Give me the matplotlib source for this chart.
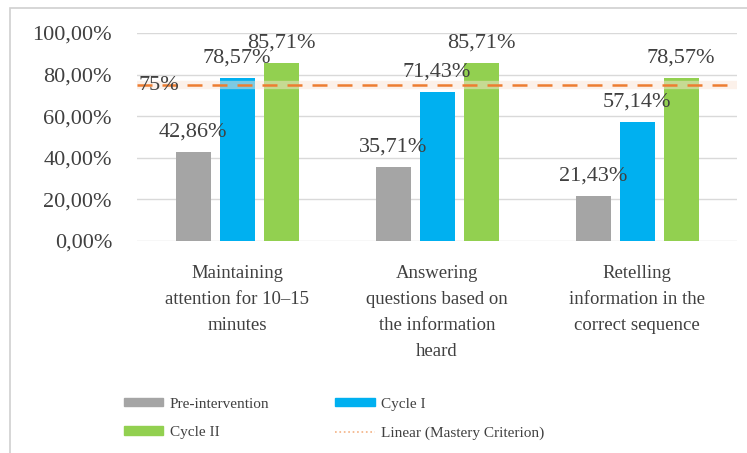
import matplotlib
matplotlib.use("Agg")
import matplotlib.pyplot as plt
import numpy as np
from matplotlib.patches import Rectangle, Patch
from matplotlib.lines import Line2D

categories = ["Maintaining\nattention for 10\u201315\nminutes",
              "Answering\nquestions based on\nthe information\nheard",
              "Retelling\ninformation in the\ncorrect sequence"]
series_names = ["Pre-intervention", "Cycle I", "Cycle II"]
pre = [42.86, 35.71, 21.43]
cycle1 = [78.57, 71.43, 57.14]
cycle2 = [85.71, 85.71, 78.57]
mastery = 75
colors = ["#a5a5a5", "#00b0f0", "#92d050"]

plt.rcParams['font.family'] = ['Liberation Serif', 'DejaVu Serif']

fig = plt.figure(figsize=(7.47, 4.53), dpi=100)
fig.patches.append(Rectangle((10/747, -0.1), 1.2, (453-8)/453 + 0.1, transform=fig.transFigure,
                             fill=False, edgecolor="#d0d0d0", linewidth=1.2))
ax = fig.add_axes([137/747, (453-241)/453, 600/747, 208/453])

x = np.arange(len(categories))
w = 0.175
off = 0.22
for i, (vals, c) in enumerate(zip([pre, cycle1, cycle2], colors)):
    xs = x + (i - 1) * off
    ax.bar(xs, vals, width=w, color=c, zorder=2)
    for xx, v in zip(xs, vals):
        ax.text(xx, v + 5, f"{v:.2f}%".replace(".", ","), ha="center", va="bottom",
                fontsize=16, color="#404040", zorder=4)

ax.axhline(mastery, color="#fbe5d6", linewidth=6, alpha=0.5, zorder=2.5)
ax.axhline(mastery, color="#ed7d31", linewidth=1.8, dashes=(6, 4), zorder=3)
ax.text(-0.49, mastery, f"{mastery}%", ha="left", va="center", fontsize=16, color="#404040", zorder=4)

ax.set_xlim(-0.5, 2.5)
ax.set_ylim(0, 100)
ax.set_yticks(np.arange(0, 101, 20))
ax.set_yticklabels([f"{t:.2f}%".replace(".", ",") for t in np.arange(0, 101, 20)],
                   fontsize=16, color="#404040")
ax.set_xticks(x)
ax.set_xticklabels(categories, fontsize=13.5, color="#404040", linespacing=1.7)
ax.tick_params(length=0)
ax.tick_params(axis="y", pad=18)
ax.tick_params(axis="x", pad=17)
ax.grid(axis="y", color="#d9d9d9", linewidth=1, zorder=0)
for s in ax.spines.values():
    s.set_visible(False)

handles = [Patch(color=colors[0]), Patch(color=colors[1]), Patch(color=colors[2]),
           Line2D([], [], color="#f4b183", linestyle=":", linewidth=1.2)]
labels = ["Pre-intervention", "Cycle I", "Cycle II", "Linear (Mastery Criterion)"]
order = [0, 2, 1, 3]
fig.legend([handles[k] for k in order], [labels[k] for k in order], ncol=2,
           loc="upper left", bbox_to_anchor=(110/747, 1 - 384/453), frameon=False,
           fontsize=11, handlelength=2.6, handleheight=0.45, handletextpad=0.4,
           columnspacing=4.3, labelspacing=1.0, labelcolor="#404040")

fig.savefig("out.png", dpi=100)
